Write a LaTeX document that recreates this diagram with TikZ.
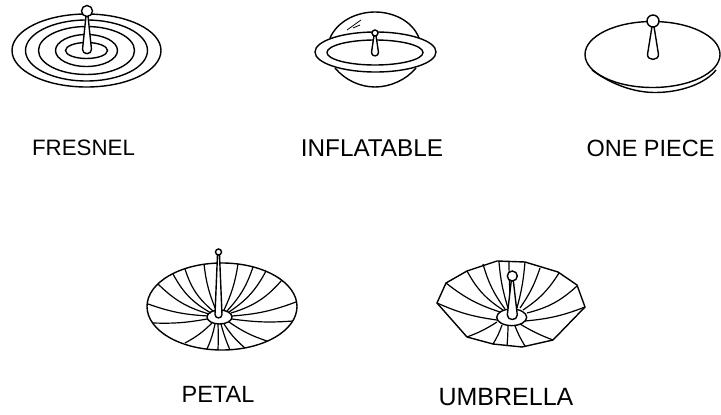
\documentclass[tikz,border=0pt]{standalone}
\usepackage{fontspec}
\setmainfont{Liberation Sans}
\begin{document}
\begin{tikzpicture}[x=1pt,y=-1pt,line width=1.4pt,
    caption/.style={font=\fontsize{#1}{26}\selectfont,inner sep=0pt}]
  \useasboundingbox (0,0) rectangle (721,415);
  \fill[white] (0,0) rectangle (721,415);
  % fresnel
  \foreach \rx/\ry in {74.5/36.5,61/30.5,48/24,31/16,21/8}
    \draw (86.5,50.5) ellipse ({\rx} and {\ry});
  % inflatable
  \draw (330,38) .. controls (338,20) and (358,12) .. (375,12) .. controls (392,12) and (412,20) .. (419,38);
  \draw (335,68) .. controls (345,80) and (360,87) .. (375,87) .. controls (390,87) and (406,80) .. (416,68);
  \draw (375.5,52) ellipse (60.5 and 20);
  \draw (375,52.5) ellipse (48 and 12.5);
  \draw[line width=0.8pt] (347,30) -- (361,20);
  \draw[line width=0.8pt] (353,28) -- (360,25);
  % one piece
  \draw (652.5,54.5) ellipse (67.5 and 33);
  \draw (592,70) .. controls (612,85) and (635,92.5) .. (655,92.5) .. controls (680,92.5) and (705,84) .. (716,70);
  % petal
  \draw (222,306.5) ellipse (75 and 43.5);
  \draw (219.5,317) ellipse (12.5 and 7);
  \foreach \rimx/\rimy/\hubx/\huby/\bend in {
      148/304/208/316/8, 158/284/209/314/14, 173/274/211/313/16, 185/269/213/311/16, 204/264/216/310/8,
      238/264/224/310/-8, 253/267/227/311/-12, 266/271/229/312/-14, 282/280/231/313/-16, 296/302/232/316/-8,
      293/321/232/319/-6, 267/341/229/322/-8, 245/348/224/324/-8, 230/350/221/324/-4, 218/350/218/324/2,
      207/349/215/324/6, 185/343/212/323/8, 153/323/207/319/6}
    \draw[line width=1.2pt] (\rimx,\rimy) to[bend right=\bend] (\hubx,\huby);
  % umbrella
  \draw (437,303) -- (446,283) -- (467,271) -- (497,261) -- (525,262) -- (558,272) -- (577,285) -- (585,307)
    -- (553,340) -- (522,347) -- (493,344) -- (467,337) -- cycle;
  \draw (511.7,317.3) ellipse (15 and 8.3);
  \foreach \rimx/\rimy/\hubx/\huby/\bend in {
      446/283/500/312/10, 467/271/503/310/14, 483/264/505/309/10, 499/262/508/308/6, 509/262/511/308/2,
      525/262/517/308/-5, 540/268/520/308/-8, 559/273/523/310/-12, 577/286/527/313/-14, 585/307/525/321/-8,
      553/340/520/324/-5, 525/346/515/326/-5, 507/346/508/326/2, 493/344/502/325/6, 467/337/497/322/6, 437/303/497/320/8}
    \draw[line width=1.2pt] (\rimx,\rimy) to[bend right=\bend] (\hubx,\huby);
  % feed masts
  \foreach \mx/\btop/\bbot/\bw/\br in {87/11/54/4.5/5.5, 375/33/56/3.5/3, 653/21/60/5.5/6, 218.5/252/318/3.5/3, 512.3/276/320/5/5}{
    \draw[fill=white] (\mx-1,\btop+\br-0.5) -- (\mx-\bw,\bbot-\bw) .. controls (\mx-\bw,\bbot+1) and (\mx+\bw,\bbot+1) .. (\mx+\bw,\bbot-\bw) -- (\mx+1,\btop+\br-0.5) -- cycle;
    \draw[fill=white] (\mx,\btop) circle (\br);
  }
  % captions
  \node[caption=22.3] (fresnel) at (83.5,148) {FRESNEL};
  \node[caption=24.3] (inflatable) at (372,148) {INFLATABLE};
  \node[caption=23.5] (onepiece) at (650.5,148) {ONE PIECE};
  \node[caption=23.5] (petal) at (218,394) {PETAL};
  \node[caption=25] (umbrella) at (506,397) {UMBRELLA};
\end{tikzpicture}
\end{document}
